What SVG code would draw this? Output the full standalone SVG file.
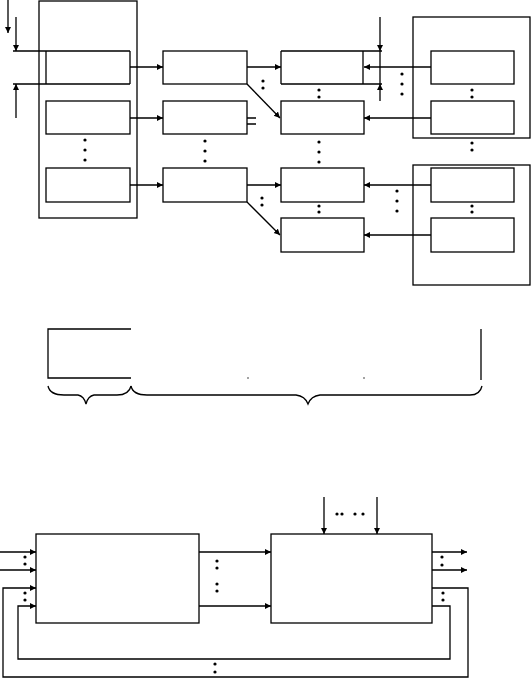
<svg xmlns="http://www.w3.org/2000/svg" width="531" height="678" viewBox="0 0 531 678">
<style>
.s{fill:none;stroke:#000;stroke-width:1.3}
.t{stroke:#000;stroke-width:1}
.d{fill:#000}
</style>
<defs>
<marker id="ah" markerUnits="userSpaceOnUse" markerWidth="7" markerHeight="7" refX="6" refY="3" orient="auto">
<path d="M0,0 L6,3 L0,6 z" fill="#000"/>
</marker>
</defs>
<rect width="531" height="678" fill="#fff"/>

<!-- top section containers -->
<g id="left-container"><rect class="s" x="39" y="1" width="98" height="217"/></g>
<g id="right-container-1"><rect class="s" x="413" y="17" width="117" height="121"/></g>
<g id="right-container-2"><rect class="s" x="413" y="165" width="117" height="120"/></g>

<!-- left column -->
<g id="l1"><path class="s" d="M13,51 H130 M13,84 H130 M46,51 V84 M130,51 V84"/></g>
<g id="l2"><rect class="s" x="46" y="101" width="84" height="33"/></g>
<g id="l3"><rect class="s" x="46" y="168" width="84" height="34"/></g>
<!-- middle column -->
<g id="m1"><rect class="s" x="163" y="51" width="84" height="33"/></g>
<g id="m2"><rect class="s" x="163" y="101" width="84" height="33"/></g>
<g id="m3"><rect class="s" x="163" y="168" width="84" height="34"/></g>
<!-- third column -->
<g id="c1"><path class="s" d="M281,51 H382 M281,84 H382 M281,51 V84 M363,51 V84"/></g>
<g id="c2"><rect class="s" x="281" y="101" width="83" height="33"/></g>
<g id="c3"><rect class="s" x="281" y="168" width="83" height="34"/></g>
<g id="c4"><rect class="s" x="281" y="218" width="83" height="34"/></g>
<!-- right inner boxes -->
<g id="r1"><rect class="s" x="431" y="51" width="83" height="33"/></g>
<g id="r2"><rect class="s" x="431" y="101" width="83" height="33"/></g>
<g id="r3"><rect class="s" x="431" y="168" width="83" height="34"/></g>
<g id="r4"><rect class="s" x="431" y="218" width="83" height="34"/></g>

<!-- middle section -->
<g id="range-bar">
<path class="s" d="M131,329 H48 V378 H131"/>
<path class="s" d="M481,329 V380"/>
<circle class="d" cx="248" cy="378" r="0.7"/>
<circle class="d" cx="364" cy="378" r="0.7"/>
</g>
<g id="brace-1"><path class="s" d="M48,386 Q50,395 64,395 L78,395 Q84,396 86,404 Q88,396 94,395 L117,395 Q129,395 131,386"/></g>
<g id="brace-2"><path class="s" d="M131,386 Q133,395 147,395 L296,395 Q305,396 308,404 Q311,396 320,395 L470,395 Q480,395 482,386"/></g>

<!-- bottom section -->
<g id="block-a"><rect class="s" x="36" y="534" width="163" height="89"/></g>
<g id="block-b"><rect class="s" x="271" y="534" width="161" height="89"/></g>

<g id="connectors" class="s">
<!-- top-left dimension arrows -->
<path d="M8,0 V33" marker-end="url(#ah)"/>
<path d="M16,17 V51" marker-end="url(#ah)"/>
<path d="M16,118 V84" marker-end="url(#ah)"/>
<!-- left to middle -->
<path d="M130,67 H163" marker-end="url(#ah)"/>
<path d="M130,118 H163" marker-end="url(#ah)"/>
<path d="M130,185 H163" marker-end="url(#ah)"/>
<!-- middle to third -->
<path d="M247,67 H281" marker-end="url(#ah)"/>
<path d="M247,84 L280,118" marker-end="url(#ah)"/>
<path d="M247,118 H256 M247,124 H256"/>
<path d="M247,185 H281" marker-end="url(#ah)"/>
<path d="M247,202 L280,235" marker-end="url(#ah)"/>
<!-- right to third -->
<path d="M431,67 H364" marker-end="url(#ah)"/>
<path d="M431,118 H364" marker-end="url(#ah)"/>
<path d="M431,185 H364" marker-end="url(#ah)"/>
<path d="M431,235 H364" marker-end="url(#ah)"/>
<!-- right dimension arrows -->
<path d="M380,17 V51" marker-end="url(#ah)"/>
<path d="M380,101 V84" marker-end="url(#ah)"/>
<path d="M380,51 V84"/>
<!-- bottom inputs -->
<path d="M0,552 H36" marker-end="url(#ah)"/>
<path d="M0,570 H36" marker-end="url(#ah)"/>
<path d="M199,552 H271" marker-end="url(#ah)"/>
<path d="M199,606 H271" marker-end="url(#ah)"/>
<path d="M324,497 V534" marker-end="url(#ah)"/>
<path d="M377,497 V534" marker-end="url(#ah)"/>
<path d="M432,552 H467" marker-end="url(#ah)"/>
<path d="M432,570 H467" marker-end="url(#ah)"/>
<!-- feedback loops -->
<path d="M432,606 H450 V659 H18 V606 H36" marker-end="url(#ah)"/>
<path d="M432,588 H468 V677 H3 V588 H36" marker-end="url(#ah)"/>
</g>

<g id="dots" class="d">
<circle cx="85" cy="140" r="1.6"/><circle cx="85" cy="150" r="1.6"/><circle cx="85" cy="160" r="1.6"/>
<circle cx="205" cy="141" r="1.6"/><circle cx="205" cy="151" r="1.6"/><circle cx="205" cy="161" r="1.6"/>
<circle cx="263" cy="81" r="1.6"/><circle cx="263" cy="88" r="1.6"/>
<circle cx="262" cy="198" r="1.6"/><circle cx="262" cy="205" r="1.6"/>
<circle cx="319" cy="90" r="1.6"/><circle cx="319" cy="97" r="1.6"/>
<circle cx="319" cy="142" r="1.6"/><circle cx="319" cy="152" r="1.6"/><circle cx="319" cy="162" r="1.6"/>
<circle cx="319" cy="206" r="1.6"/><circle cx="319" cy="212" r="1.6"/>
<circle cx="402" cy="74" r="1.6"/><circle cx="402" cy="84" r="1.6"/><circle cx="402" cy="94" r="1.6"/>
<circle cx="472" cy="90" r="1.6"/><circle cx="472" cy="97" r="1.6"/>
<circle cx="472" cy="143" r="1.6"/><circle cx="472" cy="150" r="1.6"/>
<circle cx="472" cy="206" r="1.6"/><circle cx="472" cy="212" r="1.6"/>
<circle cx="397" cy="191" r="1.6"/><circle cx="397" cy="201" r="1.6"/><circle cx="397" cy="211" r="1.6"/>
<circle cx="25" cy="557" r="1.6"/><circle cx="25" cy="564" r="1.6"/>
<circle cx="25" cy="593" r="1.6"/><circle cx="25" cy="600" r="1.6"/>
<circle cx="217" cy="561" r="1.6"/><circle cx="217" cy="568" r="1.6"/>
<circle cx="217" cy="584" r="1.6"/><circle cx="217" cy="591" r="1.6"/>
<circle cx="215" cy="664" r="1.6"/><circle cx="215" cy="672" r="1.6"/>
<circle cx="337" cy="514" r="1.6"/><circle cx="342" cy="514" r="1.6"/>
<circle cx="355" cy="514" r="1.6"/><circle cx="363" cy="514" r="1.6"/>
<circle cx="442" cy="557" r="1.6"/><circle cx="442" cy="565" r="1.6"/>
<circle cx="443" cy="593" r="1.6"/><circle cx="443" cy="600" r="1.6"/>
</g>
</svg>
